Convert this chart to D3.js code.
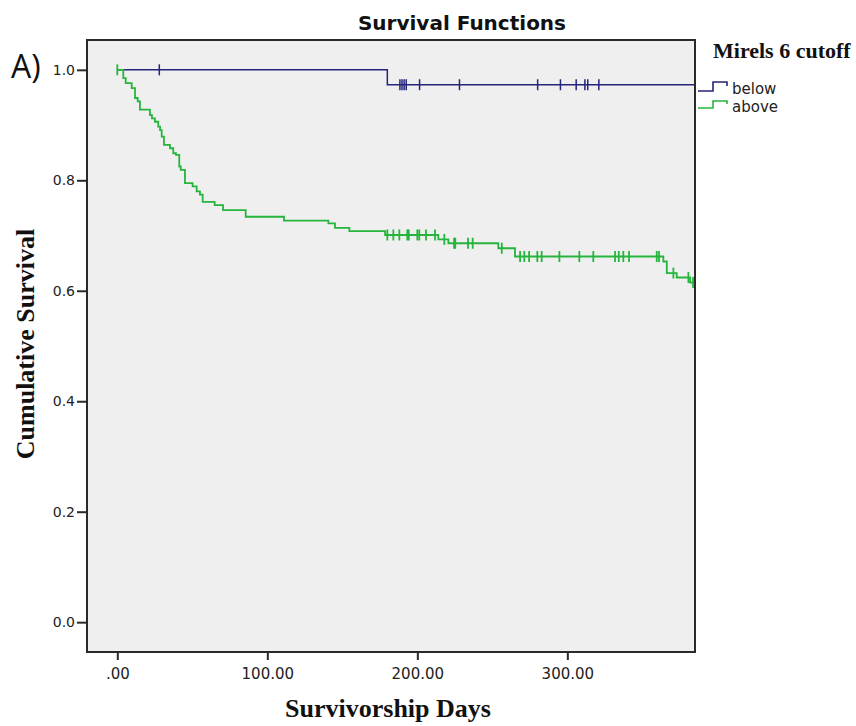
<!DOCTYPE html>
<html>
<head>
<meta charset="utf-8">
<script src="https://cdn.jsdelivr.net/npm/d3@7"></script>
<style>
  body { margin: 0; background: #fff; }
  svg { display: block; }
</style>
</head>
<body>
<div id="chart"></div>
<script>
// group "below": step times and survival after each time
const belowTimes = [0, 180, 385];
const belowSurv = [1.0, 0.973, 0.973];
const belowCensored = [28, 188.4, 189.8, 191.2, 192.6, 201.5, 228.1, 280.2, 295.4, 305.9, 311.7, 313.6, 321];

// group "above"
const aboveTimes = [0, 4.0, 5.6, 9.6, 11.8, 13.6, 15.1, 21.8, 23.1, 25.1, 27.3, 28.5, 29.6, 31.1, 35.1, 37.3, 39.1,
  41.3, 42.3, 45.1, 50.2, 52.9, 55.1, 56.9, 64.9, 70.5, 85.6, 111.1, 140.7, 145.1, 154.7, 178.5, 214, 220.7,
  254, 265.1, 364, 366.3, 372.9, 381.8, 385];
const aboveSurv = [1.0, 0.985, 0.976, 0.967, 0.949, 0.943, 0.928, 0.918, 0.912, 0.906, 0.897, 0.891, 0.879, 0.864,
  0.858, 0.849, 0.846, 0.825, 0.819, 0.795, 0.789, 0.780, 0.774, 0.761, 0.755, 0.746, 0.734, 0.727, 0.722, 0.714,
  0.708, 0.701, 0.693, 0.686, 0.677, 0.662, 0.653, 0.632, 0.624, 0.615, 0.615];
const aboveCensored = [0, 180, 184, 188, 193.3, 194.3, 200, 201.3, 205.8, 211.8, 218, 224.5, 225.3, 233.8, 236.9,
  256.3, 268.5, 271.3, 274.5, 280, 282.9, 294.7, 308, 317.3, 331.8, 334.3, 337.3, 341.1, 359.6, 361.1, 370.7,
  380.7, 383.8];

const xTicks = [0, 100, 200, 300];
const xTickLabels = ['.00', '100.00', '200.00', '300.00'];
const yTicks = [0, 0.2, 0.4, 0.6, 0.8, 1.0];
const yTickLabels = ['0.0', '0.2', '0.4', '0.6', '0.8', '1.0'];

const groups = [
  { name: 'below', times: belowTimes, surv: belowSurv, censored: belowCensored, color: '#25257a', width: 1.5 },
  { name: 'above', times: aboveTimes, surv: aboveSurv, censored: aboveCensored, color: '#26b53c', width: 1.8 }
];

const width = 856;
const height = 726;
const plot = { left: 87, top: 40, right: 695, bottom: 652 };

const svg = d3.select('#chart')
  .append('svg')
  .attr('width', width)
  .attr('height', height);

const xScale = d3.scaleLinear()
  .domain([-20.2, 385.1])
  .range([plot.left, plot.right]);

const yScale = d3.scaleLinear()
  .domain([-0.054, 1.054])
  .range([plot.bottom, plot.top]);

svg.append('defs').append('clipPath')
  .attr('id', 'clip')
  .append('rect')
  .attr('x', plot.left)
  .attr('y', plot.top)
  .attr('width', plot.right - plot.left)
  .attr('height', plot.bottom - plot.top);

// plot background
svg.append('rect')
  .attr('x', plot.left)
  .attr('y', plot.top)
  .attr('width', plot.right - plot.left)
  .attr('height', plot.bottom - plot.top)
  .attr('fill', '#efefef');

const line = d3.line()
  .x(d => xScale(d[0]))
  .y(d => yScale(d[1]))
  .curve(d3.curveStepAfter);

// survival at time t (step function)
function survAt(g, t) {
  const i = d3.bisectRight(g.times, t) - 1;
  return g.surv[Math.max(0, i)];
}

const curves = svg.append('g').attr('clip-path', 'url(#clip)');

groups.forEach(g => {
  const pts = g.times.map((t, i) => [t, g.surv[i]]);
  curves.append('path')
    .attr('d', line(pts))
    .attr('fill', 'none')
    .attr('stroke', g.color)
    .attr('stroke-width', g.width);

  curves.selectAll(null)
    .data(g.censored)
    .enter()
    .append('line')
    .attr('x1', d => xScale(d))
    .attr('x2', d => xScale(d))
    .attr('y1', d => yScale(survAt(g, d)) - 5.5)
    .attr('y2', d => yScale(survAt(g, d)) + 5.5)
    .attr('stroke', g.color)
    .attr('stroke-width', g.width);
});

// frame
svg.append('rect')
  .attr('x', plot.left)
  .attr('y', plot.top)
  .attr('width', plot.right - plot.left)
  .attr('height', plot.bottom - plot.top)
  .attr('fill', 'none')
  .attr('stroke', '#2a2a2a')
  .attr('stroke-width', 2);

const xAxis = d3.axisBottom(xScale)
  .tickValues(xTicks)
  .tickFormat((d, i) => xTickLabels[i])
  .tickSize(8)
  .tickPadding(8)
  .tickSizeOuter(0);

const yAxis = d3.axisLeft(yScale)
  .tickValues(yTicks)
  .tickFormat((d, i) => yTickLabels[i])
  .tickSize(10)
  .tickPadding(2)
  .tickSizeOuter(0);

const gx = svg.append('g')
  .attr('transform', `translate(0, ${plot.bottom})`)
  .call(xAxis);

const gy = svg.append('g')
  .attr('transform', `translate(${plot.left}, 0)`)
  .call(yAxis);

[gx, gy].forEach(g => {
  g.select('.domain').remove();
  g.selectAll('.tick line').attr('stroke', '#2a2a2a').attr('stroke-width', 2);
  g.selectAll('.tick text')
    .attr('fill', '#222')
    .style('font-family', '"DejaVu Sans", sans-serif')
    .style('font-size', '15px');
});
gy.selectAll('.tick text').style('font-size', '14px');

// titles
svg.append('text')
  .attr('x', 462)
  .attr('y', 30)
  .attr('text-anchor', 'middle')
  .style('font-family', '"DejaVu Sans", sans-serif')
  .style('font-weight', 'bold')
  .style('font-size', '20px')
  .attr('fill', '#111')
  .text('Survival Functions');

svg.append('text')
  .attr('x', 11)
  .attr('y', 78)
  .style('font-family', '"Open Sans", sans-serif')
  .style('font-size', '32px')
  .attr('fill', '#111')
  .text('A)');

svg.append('text')
  .attr('transform', 'translate(34, 344) rotate(-90)')
  .attr('text-anchor', 'middle')
  .style('font-family', '"Liberation Serif", serif')
  .style('font-weight', 'bold')
  .style('font-size', '26px')
  .attr('fill', '#111')
  .text('Cumulative Survival');

svg.append('text')
  .attr('x', 388)
  .attr('y', 717)
  .attr('text-anchor', 'middle')
  .style('font-family', '"Liberation Serif", serif')
  .style('font-weight', 'bold')
  .style('font-size', '26px')
  .attr('fill', '#111')
  .text('Survivorship Days');

// legend
svg.append('text')
  .attr('x', 713)
  .attr('y', 58)
  .style('font-family', '"Liberation Serif", serif')
  .style('font-weight', 'bold')
  .style('font-size', '22px')
  .attr('fill', '#111')
  .text('Mirels 6 cutoff');

const legendRows = [
  { g: groups[0], low: 91, high: 82, end: 86, label: 94 },
  { g: groups[1], low: 108, high: 101, end: 104, label: 111.5 }
];

legendRows.forEach(r => {
  svg.append('path')
    .attr('d', `M698,${r.low}H713V${r.high}H727V${r.end}`)
    .attr('fill', 'none')
    .attr('stroke', r.g.color)
    .attr('stroke-width', 1.6);
  svg.append('text')
    .attr('x', 732)
    .attr('y', r.label)
    .style('font-family', '"DejaVu Sans", sans-serif')
    .style('font-size', '15px')
    .attr('fill', '#222')
    .text(r.g.name);
});
</script>
</body>
</html>
